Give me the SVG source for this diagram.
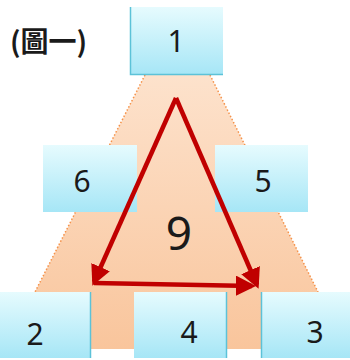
<svg xmlns="http://www.w3.org/2000/svg" width="350" height="360" viewBox="0 0 350 360">
<defs>
<linearGradient id="boxg" x1="0" y1="0" x2="0" y2="1">
<stop offset="0" stop-color="#e6fbfe"/>
<stop offset="1" stop-color="#a6e6f6"/>
</linearGradient>
<linearGradient id="trap" x1="0" y1="0" x2="0" y2="1">
<stop offset="0" stop-color="#fde2cc"/>
<stop offset="1" stop-color="#f9c59c"/>
</linearGradient>
<marker id="ah" viewBox="0 0 10 10" refX="8" refY="5" markerWidth="4.5" markerHeight="4.5" orient="auto" markerUnits="strokeWidth">
<path d="M0,0 L10,5 L0,10 z" fill="#c00000"/>
</marker>
</defs>
<style>
.box{fill:url(#boxg);}
.edge{stroke:#5cc2d8;stroke-width:1.5;fill:none;}
.lbl{font-family:"Noto Sans","DejaVu Sans",sans-serif;font-size:30px;fill:#1a1a1a;text-anchor:middle;}
.arr{stroke:#c00000;stroke-width:4.5;fill:none;stroke-linejoin:round;marker-end:url(#ah);}
</style>
<rect width="350" height="360" fill="#ffffff"/>
<g id="pyramid">
<path d="M145,75 L210,75 L318,292 L318,349 L35,349 L35,292 Z" fill="url(#trap)"/>
<path d="M145,75 L35,292 M210,75 L318,292" stroke="#f5924a" stroke-width="1.5" stroke-dasharray="1.5 2" fill="none"/>
</g>
<text x="10" y="52" font-family="'Noto Sans CJK TC','Noto Sans CJK SC',sans-serif" font-size="28" font-weight="bold" fill="#1a1a1a">(圖一)</text>
<g id="node1"><rect class="box" x="130" y="7" width="93" height="68"/><path class="edge" d="M130.5,7 V74.5 H223"/><text class="lbl" x="176" y="52">1</text></g>
<g id="node6"><rect class="box" x="43" y="145" width="94" height="67"/><text class="lbl" x="82" y="192">6</text></g>
<g id="node5"><rect class="box" x="215" y="145" width="93" height="67"/><text class="lbl" x="263" y="192">5</text></g>
<g id="node2"><rect class="box" x="0" y="292" width="91" height="66"/><path class="edge" d="M90.5,292 V358"/><text class="lbl" x="35" y="345">2</text></g>
<g id="node4"><rect class="box" x="134" y="292" width="93" height="66"/><path class="edge" d="M226.5,292 V358"/><text class="lbl" x="189" y="343">4</text></g>
<g id="node3"><rect class="box" x="261" y="292" width="89" height="66"/><path class="edge" d="M261.5,292 V358"/><text class="lbl" x="315" y="343">3</text></g>
<text x="179" y="250" font-family="'Noto Sans','DejaVu Sans',sans-serif" font-size="46" fill="#1a1a1a" text-anchor="middle">9</text>
<g id="connectors">
<path class="arr" d="M176,98 L94,282"/>
<path class="arr" d="M176,98 L257,285"/>
<path class="arr" d="M94,283 L252,286"/>
</g>
</svg>
